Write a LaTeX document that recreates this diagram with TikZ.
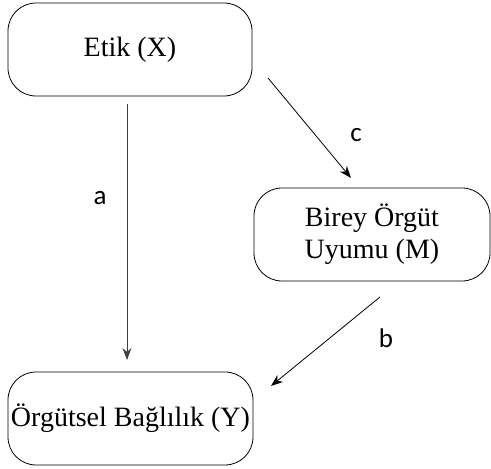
\documentclass[tikz,border=0pt]{standalone}
\usepackage{fontspec}
\setmainfont{Liberation Serif}
\newfontfamily\labelfont{Carlito}
\usetikzlibrary{arrows.meta}
\begin{document}
\begin{tikzpicture}[x=1pt,y=1pt,
  varbox/.style={draw=black, line width=0.8pt, rounded corners=28pt, align=center, inner sep=0pt, font=\fontsize{28}{32}\selectfont},
  conn/.style={line width=0.8pt, -{Stealth[length=12pt,width=9pt]}},
  lbl/.style={font=\labelfont\fontsize{27}{30}\selectfont}]
\useasboundingbox (0,0) rectangle (491,469);
\node[varbox, minimum width=244pt, minimum height=93pt] (X) at (130,419.5) {Etik (X)};
\node[varbox, minimum width=236pt, minimum height=93pt] (M) at (372,234.5) {Birey Örgüt\\Uyumu (M)};
\node[varbox, minimum width=245pt, minimum height=93pt] (Y) at (130.5,50.5) {Örgütsel Bağlılık (Y)};
\coordinate (a1) at (127,365);
\coordinate (a2) at (127,109);
\coordinate (c1) at (268,391);
\coordinate (c2) at (351,291);
\coordinate (b1) at (380,172);
\coordinate (b2) at (271,83);
\draw[conn, draw=black!75] (a1) -- (a2);
\draw[conn] (c1) -- (c2);
\draw[conn] (b1) -- (b2);
\node[lbl] (la) at (100,271) {a};
\node[lbl] (lc) at (356,334) {c};
\node[lbl] (lb) at (386,131) {b};
\end{tikzpicture}
\end{document}
